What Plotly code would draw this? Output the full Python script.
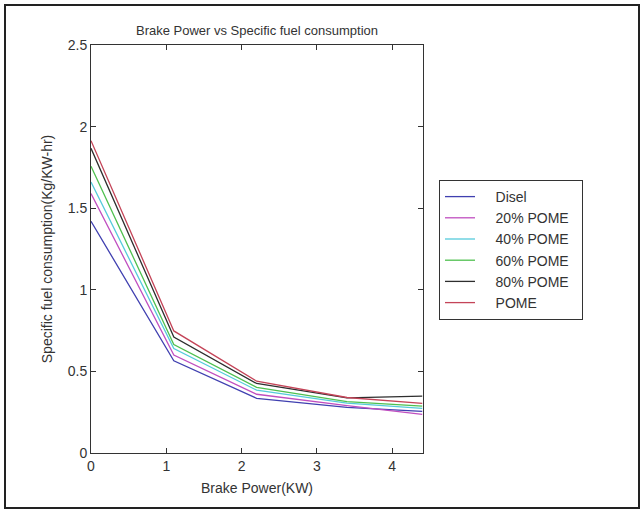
import plotly.graph_objects as go

brake_power = [0, 1.1, 2.2, 3.4, 4.4]
disel = [1.42, 0.565, 0.335, 0.28, 0.255]
pome20 = [1.59, 0.60, 0.36, 0.29, 0.237]
pome40 = [1.66, 0.64, 0.385, 0.305, 0.273]
pome60 = [1.757, 0.665, 0.402, 0.315, 0.287]
pome80 = [1.867, 0.71, 0.426, 0.338, 0.348]
pome = [1.914, 0.748, 0.44, 0.34, 0.304]

series = [
    ("Disel", disel, "#4040b0"),
    ("20% POME", pome20, "#c04fc0"),
    ("40% POME", pome40, "#55cbdb"),
    ("60% POME", pome60, "#4fc04f"),
    ("80% POME", pome80, "#2e2e2e"),
    ("POME", pome, "#c44458"),
]

fig = go.Figure()
pad = "\u00a0" * 4
tail = "\u00a0" * 2
for name, ys, col in series:
    fig.add_trace(go.Scatter(x=brake_power, y=ys, mode="lines", name=pad + name + tail,
                             line=dict(color=col, width=1.3)))

L, R, T, B = 91, 423, 45, 453
W, H = 644, 510
pw, ph = R - L, B - T

axis_common = dict(
    showgrid=False, zeroline=False, ticks="inside", ticklen=5,
    mirror="ticks", showline=True, linecolor="#333333", linewidth=1,
    tickcolor="#333333", tickfont=dict(size=14, color="#333333"),
)

fig.update_layout(
    width=W, height=H,
    margin=dict(l=L, r=W - R, t=T, b=H - B),
    paper_bgcolor="white", plot_bgcolor="white",
    font=dict(family="Liberation Sans, Arial, sans-serif", color="#333333"),
    title=dict(text="Brake Power vs Specific fuel consumption",
               x=0.5, xref="paper", y=1 - 30 / H, yref="container",
               yanchor="middle", font=dict(size=13, color="#333333")),
    xaxis=dict(range=[0, 4.41], tickvals=[0, 1, 2, 3, 4],
               title=dict(text="Brake Power(KW)", font=dict(size=14), standoff=10),
               **axis_common),
    yaxis=dict(range=[0, 2.5], tickvals=[0, 0.5, 1, 1.5, 2, 2.5],
               ticktext=["0", "0.5", "1", "1.5", "2", "2.5"],
               title=dict(text="Specific fuel consumption(Kg/KW-hr)", font=dict(size=14), standoff=11),
               **axis_common),
    legend=dict(x=(439 - L) / pw, y=(B - 180) / ph, xanchor="left", yanchor="top",
                bordercolor="#333333", borderwidth=1, bgcolor="white",
                font=dict(size=14, color="#333333"), tracegroupgap=0),
    showlegend=True,
)

fig.add_shape(type="rect", xref="paper", yref="paper",
              x0=(5 - L) / pw, x1=(639 - L) / pw,
              y0=(B - 508) / ph, y1=(B - 5) / ph,
              line=dict(color="#222222", width=2), layer="below")

fig.write_html("out.html")
